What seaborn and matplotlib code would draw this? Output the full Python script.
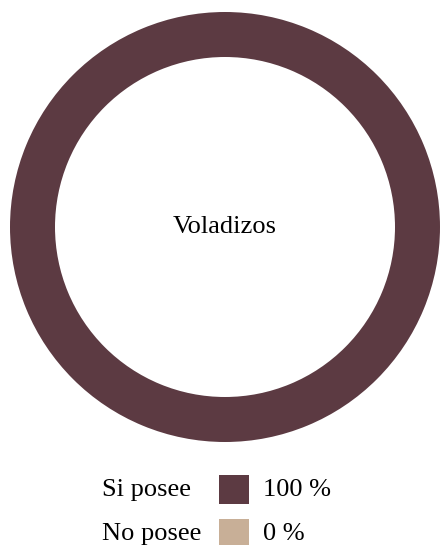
import matplotlib
matplotlib.use("Agg")
import matplotlib.pyplot as plt
from matplotlib.patches import Rectangle
import seaborn as sns

# Data
title = "Voladizos"
categories = ["Si posee", "No posee"]
values = [100, 0]
colors = ["#5C3A42", "#C8AF97"]

sns.set_theme(style="white")
plt.rcParams["font.family"] = ["Liberation Serif", "DejaVu Serif"]

W, H = 440, 545
fig = plt.figure(figsize=(W / 100, H / 100), dpi=100)
fig.patch.set_facecolor("white")

# Donut axes: centre (225, 227) px, outer radius 215 px
cx, cy, r = 225, 227, 215
ax = fig.add_axes([(cx - r) / W, (H - cy - r) / H, 2 * r / W, 2 * r / H])
ax.pie(values, colors=colors, startangle=90, counterclock=False,
       radius=1.0, wedgeprops=dict(width=45 / r, edgecolor="none", linewidth=0))
ax.set_xlim(-1, 1)
ax.set_ylim(-1, 1)
ax.set_aspect("equal")
ax.axis("off")
ax.text(0, 0, title, ha="center", va="center", fontsize=19, color="black")

# Legend rows: label, colour swatch, percentage
row_baseline = [496, 540]
for i, (cat, val, col) in enumerate(zip(categories, values, colors)):
    yb = row_baseline[i]
    fig.text(102 / W, 1 - yb / H, cat, ha="left", va="baseline",
             fontsize=19, color="black")
    sq_top = yb - 21
    fig.patches.append(Rectangle((219 / W, 1 - (sq_top + 29) / H), 30 / W, 29 / H,
                                 transform=fig.transFigure, facecolor=col,
                                 edgecolor="none"))
    fig.text(263 / W, 1 - yb / H, f"{val} %", ha="left", va="baseline",
             fontsize=19, color="black")

fig.savefig("out.png", dpi=100, facecolor="white")
